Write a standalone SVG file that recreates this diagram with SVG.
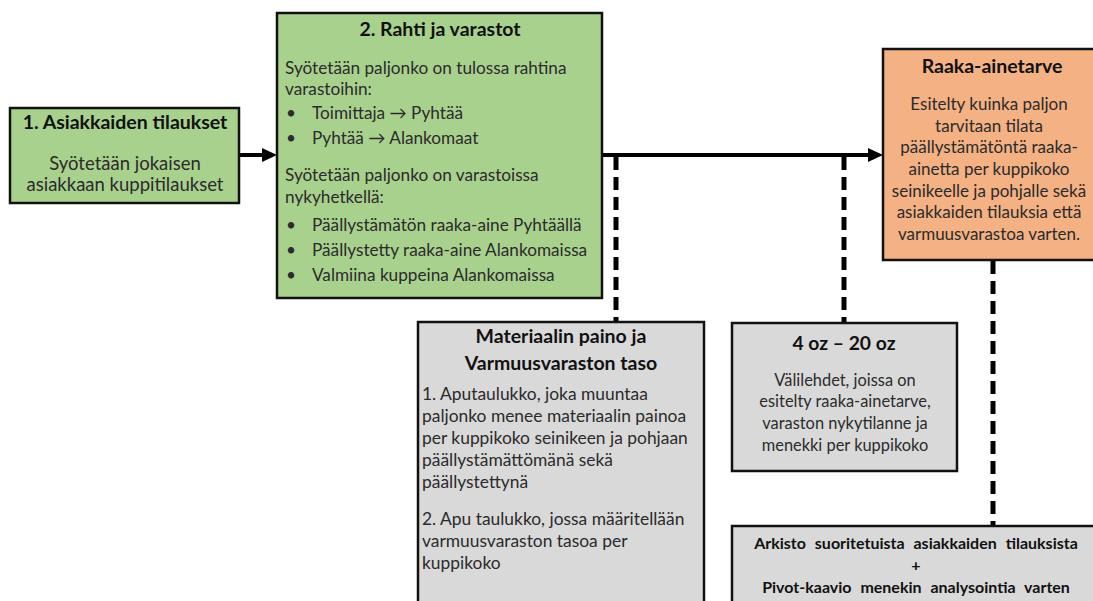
<svg xmlns="http://www.w3.org/2000/svg" width="1093" height="601" viewBox="0 0 1093 601">
  <style>
    .box { stroke: #111; stroke-width: 2.5; }
    .green { fill: #a9d18e; }
    .orange { fill: #f4b183; }
    .grey { fill: #d9d9d9; }
    text { font-family: Lato, "Open Sans", "Liberation Sans", sans-serif; fill: #2b2b2b; }
    .title { font-weight: bold; fill: #111; }
    .mid { text-anchor: middle; }
    .flow { stroke: #000; stroke-width: 4; fill: none; }
    .dash { stroke: #000; stroke-width: 5; fill: none; stroke-dasharray: 13 7; }
  </style>
  <defs>
    <marker id="head" markerUnits="userSpaceOnUse" viewBox="0 0 15 14" markerWidth="15" markerHeight="14" refX="2" refY="7" orient="auto">
      <path d="M0,0 L15,7 L0,14 z" fill="#000"/>
    </marker>
  </defs>

  <rect width="1093" height="601" fill="#fff"/>

  <!-- connectors -->
  <g id="connectors">
    <line class="flow" x1="240" y1="155" x2="264" y2="155" marker-end="url(#head)"/>
    <line class="flow" x1="603" y1="155" x2="870" y2="155" marker-end="url(#head)"/>
    <line class="dash" x1="616" y1="157" x2="616" y2="321"/>
    <line class="dash" x1="844" y1="157" x2="844" y2="322"/>
    <line class="dash" x1="993" y1="261" x2="993" y2="525"/>
  </g>

  <!-- 1. customer orders -->
  <g id="asiakkaiden-tilaukset">
    <rect class="box green" x="10" y="108" width="229" height="95"/>
    <text class="title mid" x="125" y="129" font-size="19.5">1. Asiakkaiden tilaukset</text>
    <text class="mid" x="125" y="170" font-size="18.5">Syötetään jokaisen</text>
    <text class="mid" x="125" y="191" font-size="18.5">asiakkaan kuppitilaukset</text>
  </g>

  <!-- 2. freight and warehouses -->
  <g id="rahti-ja-varastot">
    <rect class="box green" x="277" y="13" width="325" height="285"/>
    <text class="title mid" x="440" y="36" font-size="19.5">2. Rahti ja varastot</text>
    <g font-size="17.2">
      <text x="285" y="74">Syötetään paljonko on tulossa rahtina</text>
      <text x="285" y="95">varastoihin:</text>
      <text x="286" y="119">•</text><text x="312" y="119">Toimittaja → Pyhtää</text>
      <text x="286" y="144">•</text><text x="312" y="144">Pyhtää → Alankomaat</text>
      <text x="285" y="181">Syötetään paljonko on varastoissa</text>
      <text x="285" y="203">nykyhetkellä:</text>
      <text x="286" y="231">•</text><text x="312" y="231">Päällystämätön raaka-aine Pyhtäällä</text>
      <text x="286" y="256">•</text><text x="312" y="256">Päällystetty raaka-aine Alankomaissa</text>
      <text x="286" y="281">•</text><text x="312" y="281">Valmiina kuppeina Alankomaissa</text>
    </g>
  </g>

  <!-- raw material demand -->
  <g id="raaka-ainetarve">
    <rect class="box orange" x="883" y="49" width="220" height="211"/>
    <text class="title mid" x="992" y="73" font-size="19.5">Raaka-ainetarve</text>
    <g font-size="17">
      <text class="mid" x="989" y="110">Esitelty kuinka paljon</text>
      <text class="mid" x="989" y="132">tarvitaan tilata</text>
      <text class="mid" x="989" y="153">päällystämätöntä raaka-</text>
      <text class="mid" x="989" y="175">ainetta per kuppikoko</text>
      <text class="mid" x="989" y="197">seinikeelle ja pohjalle sekä</text>
      <text class="mid" x="989" y="218">asiakkaiden tilauksia että</text>
      <text class="mid" x="989" y="240">varmuusvarastoa varten.</text>
    </g>
  </g>

  <!-- material weight and safety stock -->
  <g id="materiaalin-paino">
    <rect class="box grey" x="418" y="322" width="286" height="290"/>
    <text class="title mid" x="561" y="343" font-size="19.5">Materiaalin paino ja</text>
    <text class="title mid" x="561" y="370" font-size="19.5">Varmuusvaraston taso</text>
    <g font-size="17.4">
      <text x="422" y="400">1. Aputaulukko, joka muuntaa</text>
      <text x="422" y="422">paljonko menee materiaalin painoa</text>
      <text x="422" y="444">per kuppikoko seinikeen ja pohjaan</text>
      <text x="422" y="466">päällystämättömänä sekä</text>
      <text x="422" y="488">päällystettynä</text>
      <text x="422" y="525">2. Apu taulukko, jossa määritellään</text>
      <text x="422" y="547">varmuusvaraston tasoa per</text>
      <text x="422" y="569">kuppikoko</text>
    </g>
  </g>

  <!-- cup size tabs -->
  <g id="kuppikoot">
    <rect class="box grey" x="732" y="323" width="225" height="148"/>
    <text class="title mid" x="844" y="350" font-size="19.3">4 oz – 20 oz</text>
    <g font-size="16.4">
      <text class="mid" x="845" y="386">Välilehdet, joissa on</text>
      <text class="mid" x="845" y="407">esitelty raaka-ainetarve,</text>
      <text class="mid" x="845" y="429">varaston nykytilanne ja</text>
      <text class="mid" x="845" y="451">menekki per kuppikoko</text>
    </g>
  </g>

  <!-- archive and pivot chart (wide word spacing) -->
  <g id="arkisto">
    <rect class="box grey" x="732" y="526" width="372" height="90"/>
    <g font-size="16" word-spacing="5">
      <text class="title mid" x="916" y="549">Arkisto suoritetuista asiakkaiden tilauksista</text>
      <text class="title mid" x="916" y="571">+</text>
      <text class="title mid" x="916" y="593">Pivot-kaavio menekin analysointia varten</text>
    </g>
  </g>
</svg>
